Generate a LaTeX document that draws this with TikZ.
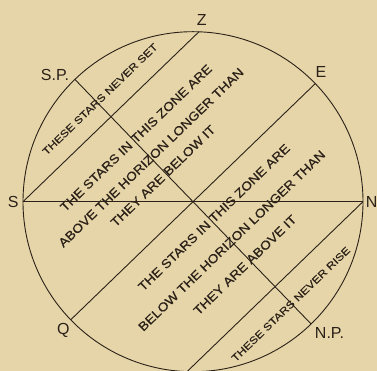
\documentclass[tikz,border=0pt]{standalone}
\usepackage{fontspec}
\setmainfont{Liberation Sans}
\newfontfamily\widefont[FakeStretch=1.12,FakeBold=0.7]{Liberation Sans}
\newfontfamily\widerfont[FakeStretch=1.2,FakeBold=0.6]{Liberation Sans}
\begin{document}
\begin{tikzpicture}[x=1pt,y=1pt,
  ink/.style={draw=inkc, line width=0.9pt},
  pointlabel/.style={font=\fontsize{16}{16}\selectfont, text=inkc, inner sep=0pt},
  zonetext/.style={font=\widefont\fontsize{12.4}{12.4}\selectfont, text=inkc, rotate=44, inner sep=0pt},
  smalltext/.style={font=\widerfont\fontsize{10.1}{10.1}\selectfont, text=inkc, rotate=44, inner sep=0pt}]
\definecolor{bgc}{HTML}{E6D5A9}
\definecolor{inkc}{HTML}{2B2118}
\fill[bgc] (0,0) rectangle (377,371);
\useasboundingbox (0,0) rectangle (377,371);
\coordinate (C) at (193,169.3);
\path (C) ++(180:170) coordinate (S)
      (C) ++(0:170) coordinate (N)
      (C) ++(88:170) coordinate (Z)
      (C) ++(44:170) coordinate (E)
      (C) ++(224:170) coordinate (Q)
      (C) ++(134:170) coordinate (SP)
      (C) ++(-46:170) coordinate (NP)
      (C) ++(-92:170) coordinate (B);
\draw[ink] (C) circle[radius=170];
\draw[ink] (S) -- (N);
\draw[ink] (E) -- (Q);
\draw[ink] (SP) -- (NP);
\draw[ink] (S) -- (Z);
\draw[ink] (N) -- (B);
\node[pointlabel] (lZ) at (201.7,351) {Z};
\node[pointlabel] (lSP) at (55,296.5) {S.P.};
\node[pointlabel] (lE) at (321,299) {E};
\node[pointlabel] (lS) at (13.3,169.3) {S};
\node[pointlabel] (lN) at (371.7,169.3) {N};
\node[pointlabel] (lQ) at (63.3,41) {Q};
\node[pointlabel] (lNP) at (329.5,37.7) {N.P.};
\node[smalltext] (t1) at (100,271.8) {THESE STARS NEVER SET};
\node[zonetext] (t2) at (136,233) {THE STARS IN THIS ZONE ARE};
\node[zonetext] (t3) at (151,213.5) {ABOVE THE HORIZON LONGER THAN};
\node[zonetext] (t4) at (163,195) {THEY ARE BELOW IT};
\node[zonetext] (t5) at (214,153.5) {THE STARS IN THIS ZONE ARE};
\node[zonetext] (t6) at (231.7,130.3) {BELOW THE HORIZON LONGER THAN};
\node[zonetext] (t7) at (245,106) {THEY ARE ABOVE IT};
\node[smalltext] (t8) at (290.8,66.8) {THESE STARS NEVER RISE};
\end{tikzpicture}
\end{document}
